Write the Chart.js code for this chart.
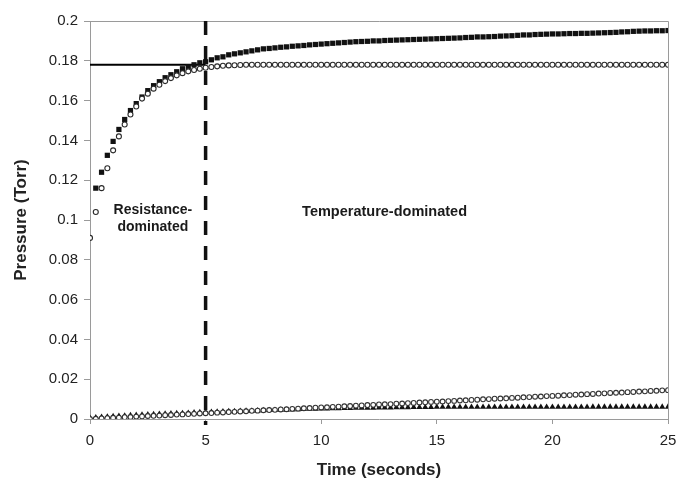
<!DOCTYPE html>
<html>
<head>
<meta charset="utf-8">
<script src="https://cdn.jsdelivr.net/npm/chart.js@4/dist/chart.umd.min.js"></script>
<style>
html,body{margin:0;padding:0;background:#fff;}
canvas{display:block;}
</style>
</head>
<body>
<canvas id="c" width="680" height="481"></canvas>
<script>
// Time (seconds)
const time = [0,0.25,0.5,0.75,1,1.25,1.5,1.75,2,2.25,2.5,2.75,3,3.25,3.5,3.75,4,4.25,4.5,4.75,5,
5.25,5.5,5.75,6,6.25,6.5,6.75,7,7.25,7.5,7.75,8,8.25,8.5,8.75,9,9.25,9.5,9.75,10,
10.25,10.5,10.75,11,11.25,11.5,11.75,12,12.25,12.5,12.75,13,13.25,13.5,13.75,14,14.25,14.5,14.75,15,
15.25,15.5,15.75,16,16.25,16.5,16.75,17,17.25,17.5,17.75,18,18.25,18.5,18.75,19,19.25,19.5,19.75,20,
20.25,20.5,20.75,21,21.25,21.5,21.75,22,22.25,22.5,22.75,23,23.25,23.5,23.75,24,24.25,24.5,24.75,25];

// Upper open circles
const upperCircles = [0.091,0.104,0.116,0.126,0.135,0.142,0.148,0.153,0.157,0.161,0.1635,0.166,0.168,0.1698,0.1713,0.1727,0.1738,0.1747,0.1754,0.176,0.1765,
0.1769,0.1772,0.1775,0.1777,0.1778,0.1779,0.178,0.178,0.178,0.178,0.178,0.178,0.178,0.178,0.178,0.178,0.178,0.178,0.178,0.178,
0.178,0.178,0.178,0.178,0.178,0.178,0.178,0.178,0.178,0.178,0.178,0.178,0.178,0.178,0.178,0.178,0.178,0.178,0.178,0.178,
0.178,0.178,0.178,0.178,0.178,0.178,0.178,0.178,0.178,0.178,0.178,0.178,0.178,0.178,0.178,0.178,0.178,0.178,0.178,0.178,
0.178,0.178,0.178,0.178,0.178,0.178,0.178,0.178,0.178,0.178,0.178,0.178,0.178,0.178,0.178,0.178,0.178,0.178,0.178,0.178];

// Upper filled squares
const upperSquares = [null,0.116,0.124,0.1325,0.1395,0.1455,0.1505,0.155,0.1585,0.1618,0.165,0.1675,0.1695,0.1715,0.173,0.1745,0.176,0.177,0.178,0.179,0.1795,
0.1805,0.1815,0.182,0.183,0.1835,0.184,0.1845,0.185,0.1855,0.186,0.1862,0.1865,0.1868,0.187,0.1873,0.1875,0.1877,0.188,0.1882,0.1884,
0.1886,0.1888,0.189,0.1892,0.1894,0.1896,0.1897,0.1898,0.19,0.19,0.1902,0.1903,0.1904,0.1905,0.1906,0.1907,0.1908,0.1909,0.191,0.1911,
0.1912,0.1913,0.1914,0.1915,0.1917,0.1918,0.192,0.192,0.1921,0.1922,0.1924,0.1925,0.1926,0.1928,0.193,0.193,0.1932,0.1933,0.1934,0.1935,
0.1935,0.1936,0.1937,0.1937,0.1938,0.1938,0.1939,0.194,0.1941,0.1942,0.1943,0.1945,0.1946,0.1948,0.1949,0.195,0.195,0.1951,0.1951,0.1952];

// Lower filled triangles
const lowerTriangles = [0.0005,0.0007,0.0009,0.0011,0.0013,0.0015,0.0016,0.0018,0.0019,0.0021,0.0022,0.0023,0.0025,0.0026,0.0027,0.0028,0.0029,0.0030,0.0032,0.0033,0.0034,
0.0035,0.0036,0.0037,0.0038,0.0039,0.0040,0.0041,0.0041,0.0042,0.0043,0.0044,0.0045,0.0046,0.0046,0.0047,0.0048,0.0049,0.0050,0.0051,0.0052,
0.0052,0.0053,0.0053,0.0054,0.0054,0.0055,0.0055,0.0056,0.0056,0.0057,0.0057,0.0057,0.0058,0.0058,0.0058,0.0059,0.0059,0.0059,0.0059,0.0060,
0.0060,0.0060,0.0060,0.0060,0.0060,0.0060,0.0060,0.0060,0.0060,0.0060,0.0060,0.0060,0.0060,0.0060,0.0060,0.0060,0.0060,0.0060,0.0060,0.0060,
0.0060,0.0060,0.0060,0.0060,0.0060,0.0060,0.0061,0.0061,0.0061,0.0061,0.0061,0.0061,0.0061,0.0061,0.0061,0.0061,0.0061,0.0061,0.0061,0.0061];

// Lower open circles
const lowerCircles = [0.0000,0.0001,0.0003,0.0004,0.0006,0.0007,0.0009,0.0010,0.0012,0.0013,0.0015,0.0016,0.0017,0.0019,0.0020,0.0022,0.0023,0.0025,0.0026,0.0028,0.0029,
0.0030,0.0032,0.0033,0.0035,0.0036,0.0038,0.0039,0.0041,0.0042,0.0044,0.0045,0.0046,0.0048,0.0049,0.0051,0.0052,0.0054,0.0055,0.0057,0.0058,
0.0059,0.0061,0.0062,0.0064,0.0065,0.0067,0.0068,0.0070,0.0071,0.0073,0.0074,0.0075,0.0077,0.0078,0.0080,0.0081,0.0083,0.0084,0.0086,0.0087,
0.0088,0.0090,0.0091,0.0093,0.0094,0.0096,0.0097,0.0099,0.0100,0.0102,0.0103,0.0104,0.0106,0.0107,0.0109,0.0110,0.0112,0.0113,0.0115,0.0116,
0.0117,0.0119,0.0120,0.0122,0.0123,0.0125,0.0126,0.0128,0.0129,0.0131,0.0132,0.0133,0.0135,0.0136,0.0138,0.0139,0.0141,0.0142,0.0144,0.0145];

// Reference lines
const plateauLevel = 0.178;
const plateauSpan = [0, 5];
const dividerTime = 5;
const dividerSpan = [-0.003, 0.2];

const yTicks = [0,0.02,0.04,0.06,0.08,0.1,0.12,0.14,0.16,0.18,0.2];
const xTicks = [0,5,10,15,20,25];

const FONT = "'Liberation Sans', Arial, Helvetica, sans-serif";

function pts(ys){ const out=[]; for(let i=0;i<time.length;i++){ if(ys[i]!==null) out.push({x:time[i],y:ys[i]}); } return out; }

const framePlugin = {
  id:'frame',
  beforeDatasetsDraw(chart){
    const {ctx, chartArea:a} = chart;
    ctx.save();
    ctx.strokeStyle = '#9a9a9a';
    ctx.lineWidth = 1;
    ctx.beginPath();
    ctx.moveTo(a.left, a.top+0.5); ctx.lineTo(a.right+0.5, a.top+0.5);
    ctx.lineTo(a.right+0.5, a.bottom);
    ctx.stroke();
    const xs = chart.scales.x, ys = chart.scales.y;
    ctx.fillStyle = '#1a1a1a';
    ctx.textAlign = 'center';
    ctx.textBaseline = 'middle';
    ctx.font = "bold 14px " + FONT;
    ctx.fillText('Resistance-', xs.getPixelForValue(2.72), ys.getPixelForValue(0.1049));
    ctx.fillText('dominated', xs.getPixelForValue(2.72), ys.getPixelForValue(0.0965));
    ctx.font = "bold 14.5px " + FONT;
    ctx.fillText('Temperature-dominated', xs.getPixelForValue(12.74), ys.getPixelForValue(0.1042));
    ctx.restore();
  }
};

new Chart(document.getElementById('c'), {
  type:'scatter',
  data:{
    datasets:[
      {label:'upper circles', data:pts(upperCircles), pointStyle:'circle', pointRadius:2.5, pointBorderWidth:1.1, borderColor:'#2a2a2a', backgroundColor:'#fff', showLine:false},
      {label:'upper squares', data:pts(upperSquares), pointStyle:'rect', pointRadius:3.7, pointBorderWidth:0, borderColor:'#111', backgroundColor:'#111', showLine:false},
      {label:'lower circles', data:pts(lowerCircles), pointStyle:'circle', pointRadius:2.4, pointBorderWidth:1.1, borderColor:'#333', backgroundColor:'#fff', showLine:false},
      {label:'lower triangles', data:pts(lowerTriangles), pointStyle:'triangle', pointRadius:3.6, pointBorderWidth:0, borderColor:'#111', backgroundColor:'#111', showLine:false},
      {label:'plateau', data:[{x:plateauSpan[0],y:plateauLevel},{x:plateauSpan[1],y:plateauLevel}], showLine:true, pointRadius:0, borderColor:'#000', borderWidth:2},
      {label:'divider', data:[{x:dividerTime,y:dividerSpan[1]},{x:dividerTime,y:dividerSpan[0]}], showLine:true, pointRadius:0, borderColor:'#111', borderWidth:3.5, borderDash:[14,11], clip:false}
    ]
  },
  options:{
    responsive:false,
    animation:false,
    devicePixelRatio:1,
    layout:{padding:{top:21, right:12, left:0, bottom:0}},
    plugins:{legend:{display:false}, tooltip:{enabled:false}},
    scales:{
      x:{
        type:'linear', min:0, max:25,
        afterBuildTicks(s){ s.ticks = xTicks.map(v=>({value:v})); },
        ticks:{font:{family:FONT,size:15}, color:'#222', padding:8, maxRotation:0},
        grid:{drawOnChartArea:false, drawTicks:true, tickLength:5, color:'#9a9a9a'},
        border:{color:'#9a9a9a', width:1},
        title:{display:true, text:'Time (seconds)', font:{family:FONT,size:17,weight:'bold'}, color:'#222', padding:{top:0,bottom:0}},
        afterFit(s){ s.height = 62; s.paddingRight = 0; s.paddingLeft = 0; }
      },
      y:{
        type:'linear', min:0, max:0.2,
        afterBuildTicks(s){ s.ticks = yTicks.map(v=>({value:v})); },
        ticks:{font:{family:FONT,size:15}, color:'#222', padding:6, callback:(v)=>String(Number(v.toFixed(2)))},
        grid:{drawOnChartArea:false, drawTicks:true, tickLength:6, color:'#9a9a9a'},
        border:{color:'#9a9a9a', width:1},
        title:{display:true, text:'Pressure (Torr)', font:{family:FONT,size:17,weight:'bold'}, color:'#222', padding:{top:11,bottom:0}},
        afterFit(s){ s.width = 90; s.paddingTop = 0; s.paddingBottom = 0; }
      }
    }
  },
  plugins:[framePlugin]
});
</script>
</body>
</html>
